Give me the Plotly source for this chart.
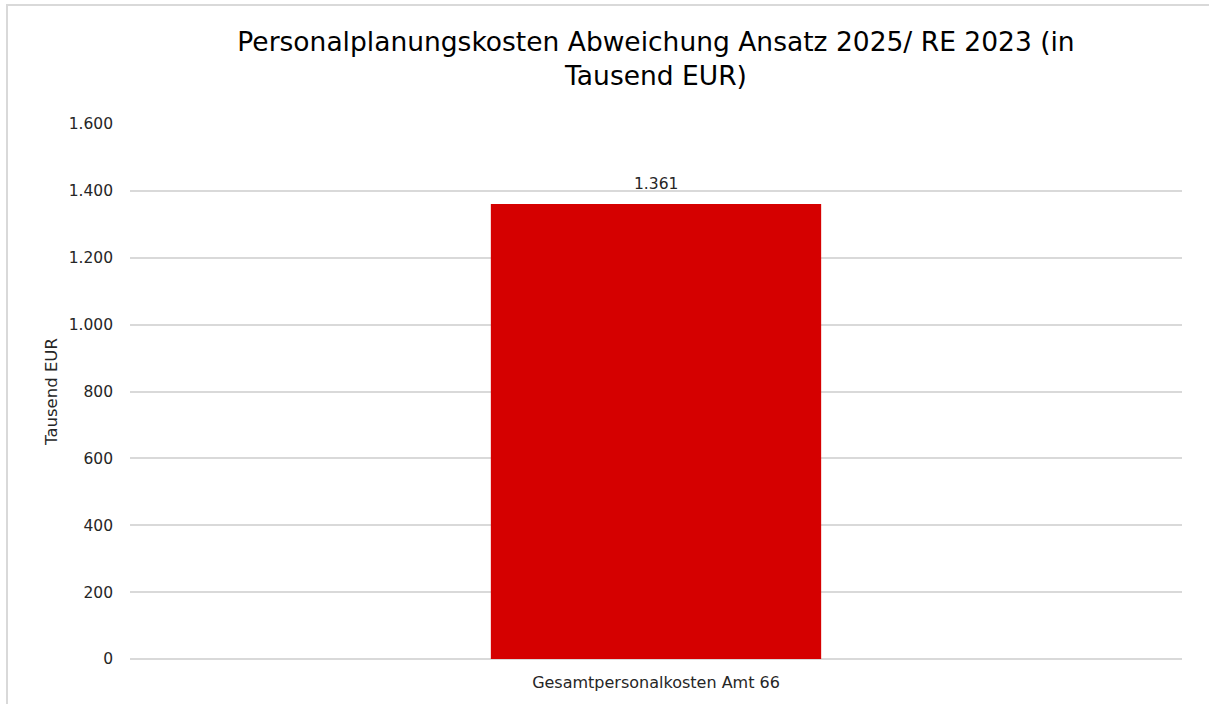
import plotly.graph_objects as go

categories = ["Gesamtpersonalkosten Amt 66"]
values = [1361]
value_labels = ["1.361"]

W, H = 1209, 704
L, R, T, B = 130, 27, 124, 45
pw, ph = W - L - R, H - T - B
FONT = "DejaVu Sans"

fig = go.Figure(go.Bar(
    x=categories, y=values,
    marker=dict(color="#D50000", line=dict(width=0)),
    hoverinfo="x+y",
))

annotations = [
    dict(x=c, y=v, xref="x", yref="y", text=t, showarrow=False,
         yanchor="bottom", yshift=9,
         font=dict(family=FONT, size=15.5, color="#262626"))
    for c, v, t in zip(categories, values, value_labels)
]

fig.update_layout(
    width=W, height=H,
    margin=dict(l=L, r=R, t=T, b=B, pad=0),
    paper_bgcolor="white", plot_bgcolor="white",
    separators=",.",
    bargap=0.686,
    showlegend=False,
    title=dict(
        text="Personalplanungskosten Abweichung Ansatz 2025/ RE 2023 (in<br>Tausend EUR)",
        x=0.5, xref="paper", xanchor="center",
        y=1 - 51 / H, yanchor="middle",
        font=dict(family=FONT, size=26.5, color="#000000"),
    ),
    font=dict(family=FONT, size=15.5, color="#262626"),
    xaxis=dict(
        showgrid=False, showline=False, zeroline=False,
        ticks="", ticklabelstandoff=12,
        tickfont=dict(size=16, color="#262626"),
        range=[-0.5, 0.5],
    ),
    yaxis=dict(
        range=[0, 1600], dtick=200, tickformat=",d",
        showgrid=True, gridcolor="#D9D9D9", gridwidth=2,
        zeroline=True, zerolinecolor="#D9D9D9", zerolinewidth=2,
        showline=False, ticks="", ticklabelstandoff=16,
        tickfont=dict(size=15.5, color="#262626"),
        title=dict(text="Tausend EUR", font=dict(size=16.5, color="#262626"), standoff=6),
    ),
    annotations=annotations,
    shapes=[dict(
        type="rect", xref="paper", yref="paper",
        x0=(7 - L) / pw, x1=(W + 20 - L) / pw,
        y0=(H - B - (H + 20)) / ph, y1=(H - B - 5) / ph,
        line=dict(color="#D9D9D9", width=2), fillcolor="rgba(0,0,0,0)",
        layer="below",
    )],
)

fig.write_html("out.html", config={"displayModeBar": False},
               post_script="document.body.style.margin='0';")
